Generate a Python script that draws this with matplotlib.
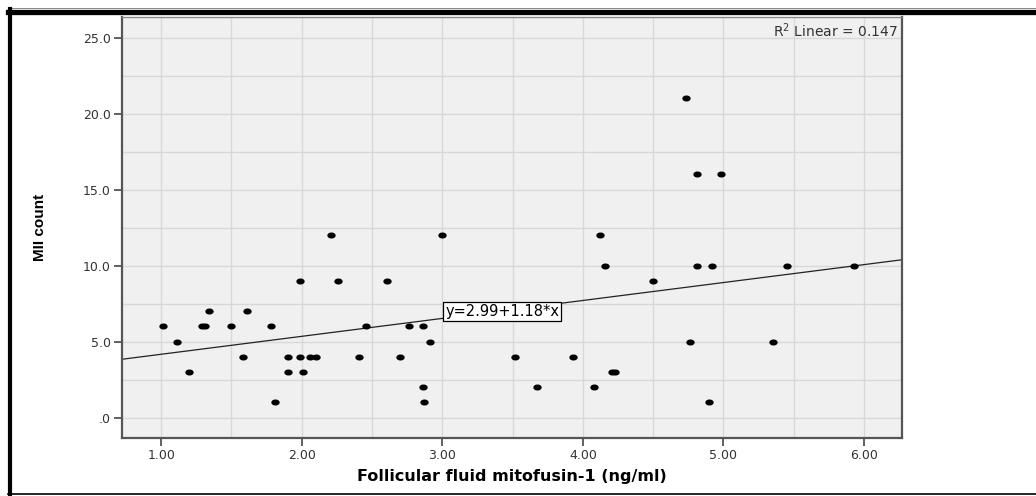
import numpy as np
import matplotlib
matplotlib.use("Agg")
import matplotlib.pyplot as plt
from matplotlib.path import Path
from matplotlib.transforms import Affine2D
from matplotlib.lines import Line2D

# data
mitofusin = [1.01, 1.11, 1.20, 1.29, 1.31, 1.34, 1.50, 1.58, 1.61, 1.78, 1.81,
             1.90, 1.90, 1.99, 1.99, 2.01, 2.06, 2.10, 2.21, 2.26, 2.41, 2.46,
             2.61, 2.70, 2.76, 2.86, 2.86, 2.87, 2.91, 3.00, 3.52, 3.67, 3.93,
             4.08, 4.12, 4.16, 4.21, 4.23, 4.50, 4.73, 4.76, 4.81, 4.81, 4.90,
             4.92, 4.98, 5.35, 5.45, 5.93]
mii_count = [6, 5, 3, 6, 6, 7, 6, 4, 7, 6, 1,
             4, 3, 9, 4, 3, 4, 4, 12, 9, 4, 6,
             9, 4, 6, 6, 2, 1, 5, 12, 4, 2, 4,
             2, 12, 10, 3, 3, 9, 21, 5, 16, 10, 1,
             10, 16, 5, 10, 10]
intercept, slope = 2.99, 1.18
r2 = 0.147

x_ticks = [1, 2, 3, 4, 5, 6]
x_labels = ["1.00", "2.00", "3.00", "4.00", "5.00", "6.00"]
y_ticks = [0, 5, 10, 15, 20, 25]
y_labels = [".0", "5.0", "10.0", "15.0", "20.0", "25.0"]

fig = plt.figure(figsize=(10.36, 4.96), dpi=100)
ax = fig.add_axes([0.1178, 0.1169, 0.7529, 0.8488])
ax.set_facecolor("#f0f0f0")

xmin, xmax = 0.722, 6.27

# grid (minor steps too)
ax.set_xticks(np.arange(1, 6.1, 0.5), minor=True)
ax.set_yticks(np.arange(0, 26, 2.5), minor=True)
ax.grid(True, which="both", color="#d8d8d8", lw=1.0, zorder=0)
ax.tick_params(which="minor", length=0)

ax.set_xticks(x_ticks)
ax.set_xticklabels(x_labels)
ax.set_yticks(y_ticks)
ax.set_yticklabels(y_labels)
ax.set_xlim(xmin, xmax)
ax.set_ylim(-1.34, 26.36)

# ellipse marker, a bit wider than tall
ell = Path.unit_circle().transformed(Affine2D().scale(1.5, 1.0))
ax.plot(mitofusin, mii_count, ls="none", marker=ell, ms=5, color="black", zorder=3)

xs = np.array([xmin, xmax])
ax.plot(xs, intercept + slope * xs, color="#222222", lw=0.9, zorder=2)

ax.text(3.02, intercept + slope * 3.01 - 0.05, "y=%.2f+%.2f*x" % (intercept, slope),
        fontsize=10.5, family="DejaVu Sans", va="bottom", ha="left", zorder=4,
        bbox=dict(boxstyle="square,pad=0.15", fc="white", ec="black", lw=0.9))
ax.text(0.994, 0.99, "R$^2$ Linear = %.3f" % r2, transform=ax.transAxes,
        fontsize=10, family="DejaVu Sans", ha="right", va="top", color="#333333")

ax.tick_params(which="major", direction="out", length=6, width=1.2, color="#444444",
               labelsize=9, labelcolor="#333333", pad=2)
for lab in ax.get_xticklabels() + ax.get_yticklabels():
    lab.set_family("DejaVu Sans")

for side in ["left", "bottom", "right"]:
    ax.spines[side].set_color("#555555")
    ax.spines[side].set_linewidth(1.6)
ax.spines["top"].set_color("#888888")
ax.spines["top"].set_linewidth(1.0)

ax.set_xlabel("Follicular fluid mitofusin-1 (ng/ml)", fontsize=11.5, fontweight="bold",
              family="DejaVu Sans", labelpad=5)
ax.set_ylabel("MII count", fontsize=11, fontweight="bold",
              family=["Liberation Sans Narrow", "Liberation Sans"], labelpad=26)

# outer frame
fig.add_artist(Line2D([8 / 1036, 1], [1 - 11.5 / 496] * 2, color="black", lw=3.8))
fig.add_artist(Line2D([8 / 1036, 1], [1 - 7.5 / 496] * 2, color="#888888", lw=0.7))
fig.add_artist(Line2D([9.5 / 1036] * 2, [0.004, 1 - 9 / 496], color="black", lw=3.0))
fig.add_artist(Line2D([8 / 1036, 1], [0.004] * 2, color="black", lw=1.2))

fig.savefig("out.png", dpi=100)
